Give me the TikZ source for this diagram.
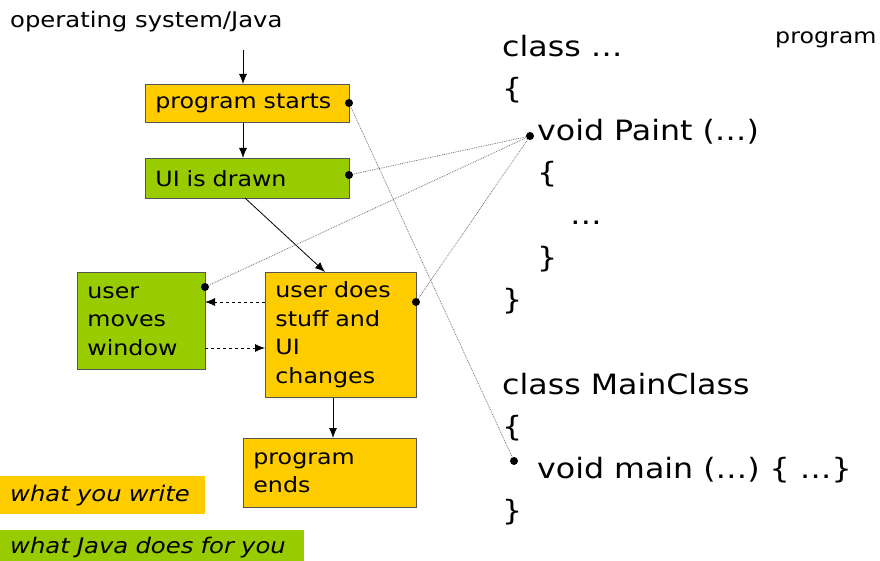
\documentclass[tikz,border=0pt]{standalone}
\usepackage{fontspec}
\setmainfont[FakeStretch=1.13]{DejaVu Sans}
\usetikzlibrary{arrows.meta}
\definecolor{youorange}{HTML}{FFCC00}
\definecolor{javagreen}{HTML}{99CC00}
\definecolor{boxedge}{HTML}{555555}

\begin{document}
\begin{tikzpicture}[x=1pt,y=-1pt,>={Latex[length=10pt,width=8pt]}]
  \tikzstyle{stage}=[draw=boxedge, line width=0.8pt, anchor=north west, align=left, inner xsep=10pt, font=\fontsize{21}{28.5}\selectfont]
  \tikzstyle{mine}=[stage, fill=youorange]
  \tikzstyle{java}=[stage, fill=javagreen]
  \tikzstyle{flow}=[->, line width=0.8pt]
  \tikzstyle{back}=[->, dashed, line width=0.8pt]
  \tikzstyle{dot}=[circle, fill=black, inner sep=0pt, minimum size=8pt]
  \tikzstyle{link}=[densely dotted, draw=black!55, line width=0.8pt]
  \tikzstyle{code}=[anchor=base west, inner sep=0pt, font=\fontsize{28}{42}\selectfont]
  \tikzstyle{key}=[anchor=north west, align=left, inner xsep=10pt, font=\fontsize{21.5}{26}\selectfont\itshape]

  \path[use as bounding box] (0,0) rectangle (880,561);

  % the flow on the left
  \node[anchor=base west, inner sep=0pt, font=\fontsize{21.5}{24}\selectfont] (os) at (10,28) {operating system/Java};
  \node[mine, minimum width=204pt, minimum height=38pt, text width=184pt] (start) at (145,84) {program starts};
  \node[java, minimum width=204pt, minimum height=40pt, text width=184pt] (drawn) at (145,158) {UI is drawn};
  \node[java, minimum width=128pt, minimum height=97pt, text width=108pt] (moves) at (77,272) {user\\moves\\window};
  \node[mine, minimum width=151pt, minimum height=125pt, text width=131pt] (stuff) at (265,272) {user does\\stuff and\\UI\\changes};
  \node[mine, minimum width=173pt, minimum height=69pt, text width=153pt] (ends) at (243,438) {program\\ends};

  \draw[flow] (243,50) -- (start.north -| 243,0);
  \draw[flow] (start.south -| 243,0) -- (drawn.north -| 243,0);
  \draw[flow] (245,198) -- (325,272);
  \draw[back] (265,302) -- (205,302);
  \draw[back] (205,348) -- (265,348);
  \draw[flow] (stuff.south -| 333,0) -- (ends.north -| 333,0);

  % legend
  \node[key, fill=youorange, minimum width=205pt, minimum height=38pt, text width=185pt] (keyyou) at (0,476) {what you write};
  \node[key, fill=javagreen, minimum width=304pt, minimum height=34pt, text width=284pt] (keyjava) at (0,530) {what Java does for you};

  % the program text
  \node[anchor=base west, inner sep=0pt, font=\fontsize{21}{24}\selectfont] (prog) at (775,44) {program};
  \node[code] (c1) at (502,57) {class …};
  \node[code] (c2) at (502,99) {\{};
  \node[code] (paint) at (537,141) {void Paint (…)};
  \node[code] (c4) at (537,183) {\{};
  \node[code] (c5) at (570,225) {…};
  \node[code] (c6) at (537,267) {\}};
  \node[code] (c7) at (502,309) {\}};
  \node[code] (c8) at (502,394) {class MainClass};
  \node[code] (c9) at (502,436) {\{};
  \node[code] (main) at (537,478) {void main (…) \{ …\}};
  \node[code] (c11) at (502,520) {\}};

  % dots and the links between them
  \node[dot] (dstart) at (349,103) {};
  \node[dot] (ddrawn) at (349,175) {};
  \node[dot] (dmoves) at (205,287) {};
  \node[dot] (dstuff) at (416,302) {};
  \node[dot] (dpaint) at (530,136) {};
  \node[dot] (dmain) at (514,461) {};

  \draw[link] (dpaint) -- (ddrawn);
  \draw[link] (dpaint) -- (dmoves);
  \draw[link] (dpaint) -- (dstuff);
  \draw[link] (dstart) -- (dmain);
\end{tikzpicture}
\end{document}
